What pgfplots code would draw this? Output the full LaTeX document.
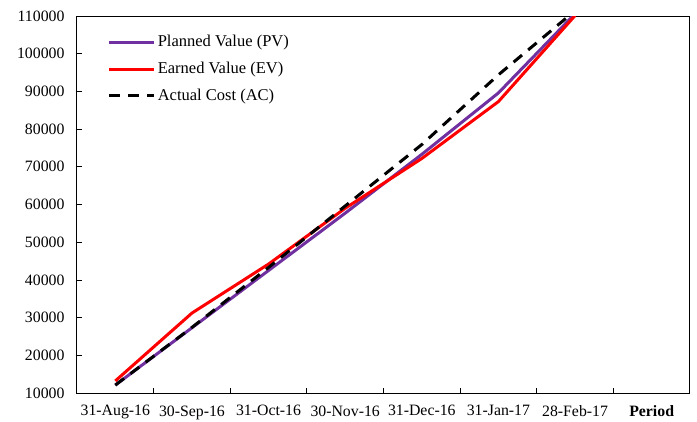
\documentclass[border=0pt]{standalone}
\usepackage{pgfplots}
\pgfplotsset{compat=1.18}
\usepackage{fontspec}
\setmainfont{Liberation Serif}
\definecolor{pvpurple}{RGB}{112,48,160}
\begin{document}
\fontsize{16}{19}\selectfont
\begin{tikzpicture}
\useasboundingbox (-77pt,-28pt) rectangle (620pt,393pt);
\begin{axis}[
  at={(0,0)}, anchor=south west,
  scale only axis,
  width=613pt, height=377pt,
  xmin=-0.5, xmax=7.5,
  ymin=10000, ymax=110000,
  ytick={10000,20000,...,110000},
  xtick={0,1,2,3,4,5,6,7},
  xticklabels={31-Aug-16,30-Sep-16,31-Oct-16,30-Nov-16,31-Dec-16,31-Jan-17,28-Feb-17,\textbf{Period}},
  major x tick style={draw=none},
  minor xtick={0.5,1.5,...,6.5},
  minor x tick style={black, line width=0.8pt},
  minor tick length=5pt,
  major tick length=5pt,
  tick align=inside,
  xtick pos=bottom, ytick pos=left,
  scaled y ticks=false,
  y tick label style={/pgf/number format/.cd, fixed, use comma=false, 1000 sep={}, /tikz/.cd, xshift=-7pt},
  x tick label style={yshift=-7pt},
  /pgf/number format/assume math mode=true,
  tick label style={font=\fontsize{15.8}{18}\selectfont},
  axis line style={black, line width=1pt},
  tick style={black, line width=0.8pt},
  clip=true,
  legend style={at={(0.045,0.96)}, anchor=north west, draw=none, fill=none,
    font=\fontsize{16.5}{18}\selectfont, row sep=9pt,
    legend cell align=left},
  legend image code/.code={\draw[#1] (0pt,0pt) -- (45pt,0pt);},
]
\addplot[pvpurple, line width=3pt] coordinates {
(0,12100) (1,27300) (2,42500) (3,57700) (4,73300) (5,89600) (6,110600)
};
\addlegendentry{Planned Value (PV)}
\addplot[red, line width=3pt] coordinates {
(0,13200) (1,31200) (2,44200) (3,59000) (4,72200) (5,87300) (6,110100)
};
\addlegendentry{Earned Value (EV)}
\addplot[black, line width=3pt, dash pattern=on 11pt off 8pt] coordinates {
(0,12100) (1,27400) (2,43300) (3,59600) (4,75900) (5,94400) (6,111400)
};
\addlegendentry{Actual Cost (AC)}
\end{axis}
\end{tikzpicture}
\end{document}
